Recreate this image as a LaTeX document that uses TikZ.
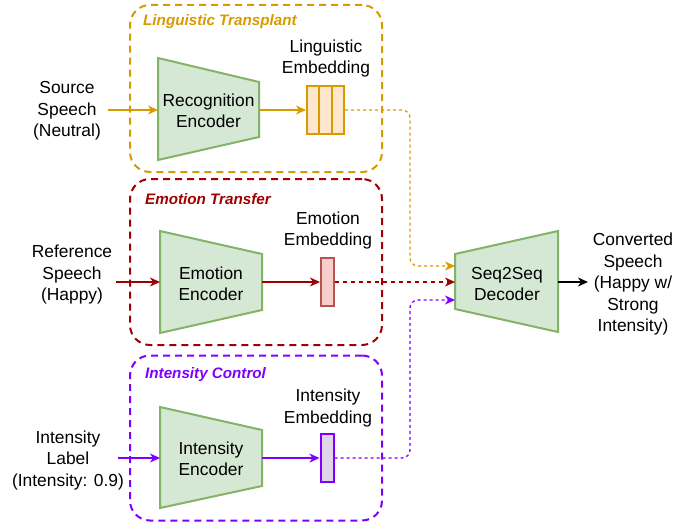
\documentclass[tikz,border=0pt]{standalone}
\usepackage{fontspec}
\setmainfont{Liberation Sans}
\usetikzlibrary{arrows.meta,calc}
\definecolor{lorange}{HTML}{D79B00}
\definecolor{lred}{HTML}{A00000}
\definecolor{lpurple}{HTML}{7F00FF}
\definecolor{gfill}{HTML}{D5E8D4}
\definecolor{gline}{HTML}{82B366}
\definecolor{ofill}{HTML}{FFE6CC}
\definecolor{rfill}{HTML}{F8CECC}
\definecolor{rline}{HTML}{B85450}
\definecolor{pfill}{HTML}{E1D5E7}
\tikzset{
  txt/.style={align=center,inner sep=0pt,font=\fontsize{17.4}{21.5}\selectfont},
  ttl/.style={anchor=west,inner sep=0pt,font=\fontsize{15.2}{18}\selectfont\bfseries\itshape},
  grp/.style={draw,line width=2pt,dash pattern=on 7pt off 5pt,rounded corners=20pt,minimum width=252pt,inner sep=0pt},
  encsh/.style={draw=gline,fill=gfill,line width=2pt,line join=miter},
  emb/.style={draw,line width=2pt,inner sep=0pt,minimum width=13pt,minimum height=48pt},
  arr/.style={line width=1.4pt,-{Stealth[length=10pt,width=9pt,inset=3pt]}},
  darr/.style={line width=1.3pt,-{Stealth[length=10pt,width=9pt,inset=3pt]},rounded corners=8pt},
}
\begin{document}
\begin{tikzpicture}[x=1pt,y=-1pt]
\useasboundingbox (0,0) rectangle (696,527);

% group boxes
\node[grp,draw=lorange,minimum height=167pt] (g1) at (256,88.5) {};
\node[grp,draw=lred,minimum height=166pt] (g2) at (256,262) {};
\node[grp,draw=lpurple,minimum height=165pt] (g3) at (256,438) {};
\node[ttl,text=lorange] (t1) at (143,22) {Linguistic Transplant};
\node[ttl,text=lred] (t2) at (145,199) {Emotion Transfer};
\node[ttl,text=lpurple] (t3) at (145,375) {Intensity Control};

% encoders
\draw[encsh] (158,58) -- (259,82) -- (259,137) -- (158,160) -- cycle;
\draw[encsh] (160,231) -- (262,254) -- (262,310) -- (160,333) -- cycle;
\draw[encsh] (160,407) -- (262,430) -- (262,486) -- (160,508) -- cycle;
\draw[encsh] (455,254) -- (558,231) -- (558,332) -- (455,309) -- cycle;
\node[txt] (enc1) at (208.5,111) {Recognition\\Encoder};
\node[txt] (enc2) at (211,284) {Emotion\\Encoder};
\node[txt] (enc3) at (211,459) {Intensity\\Encoder};
\node[txt] (dec) at (507,284) {Seq2Seq\\Decoder};
\coordinate (e1w) at (158,110);
\coordinate (e1e) at (259,110);
\coordinate (e2w) at (160,282);
\coordinate (e2e) at (262,282);
\coordinate (e3w) at (160,458);
\coordinate (e3e) at (262,458);
\coordinate (d1) at (455,266);
\coordinate (d2) at (455,282);
\coordinate (d3) at (455,300);
\coordinate (de) at (558,282);

% inputs
\node[txt] (src) at (67,111) {Source\\Speech\\(Neutral)};
\node[txt] (ref) at (72,275) {Reference\\Speech\\(Happy)};
\node[txt] (ilab) at (68,460) {Intensity\\Label\\(Intensity: 0.9)};
\coordinate (s1) at (108,110);
\coordinate (s2) at (116,282);
\coordinate (s3) at (118,458);
\draw[arr,lorange] (s1) -- (e1w);
\draw[arr,lred] (s2) -- (e2w);
\draw[arr,lpurple] (s3) -- (e3w);

% embeddings
\node[emb,draw=lorange,fill=ofill,minimum width=37pt] (ling) at (325.5,110) {};
\draw[lorange,line width=2pt] (319,86) -- (319,134) (332,86) -- (332,134);
\node[emb,draw=rline,fill=rfill] (emo) at (327.5,282) {};
\node[emb,draw=lpurple,fill=pfill] (inten) at (327,458) {};
\node[txt] (lingl) at (326,58.5) {Linguistic\\Embedding};
\node[txt] (emol) at (328,230.5) {Emotion\\Embedding};
\node[txt] (intl) at (328,408) {Intensity\\Embedding};
\draw[arr,lorange] (e1e) -- (ling.west);
\draw[arr,lred] (e2e) -- (emo.west);
\draw[arr,lpurple] (e3e) -- (inten.west);

% to decoder
\draw[darr,lorange,dash pattern=on 3pt off 3pt] (ling.east) -- (410,110) -- (410,266) -- (d1);
\draw[darr,lred,dash pattern=on 4pt off 4pt] (emo.east) -- (d2);
\draw[darr,lpurple,dash pattern=on 3pt off 3pt] (inten.east) -- (410,458) -- (410,300) -- (d3);

% output
\node[txt] (conv) at (633,284) {Converted\\Speech\\(Happy w/\\Strong\\Intensity)};
\coordinate (o1) at (588,282);
\draw[arr,black] (de) -- (o1);
\end{tikzpicture}
\end{document}
